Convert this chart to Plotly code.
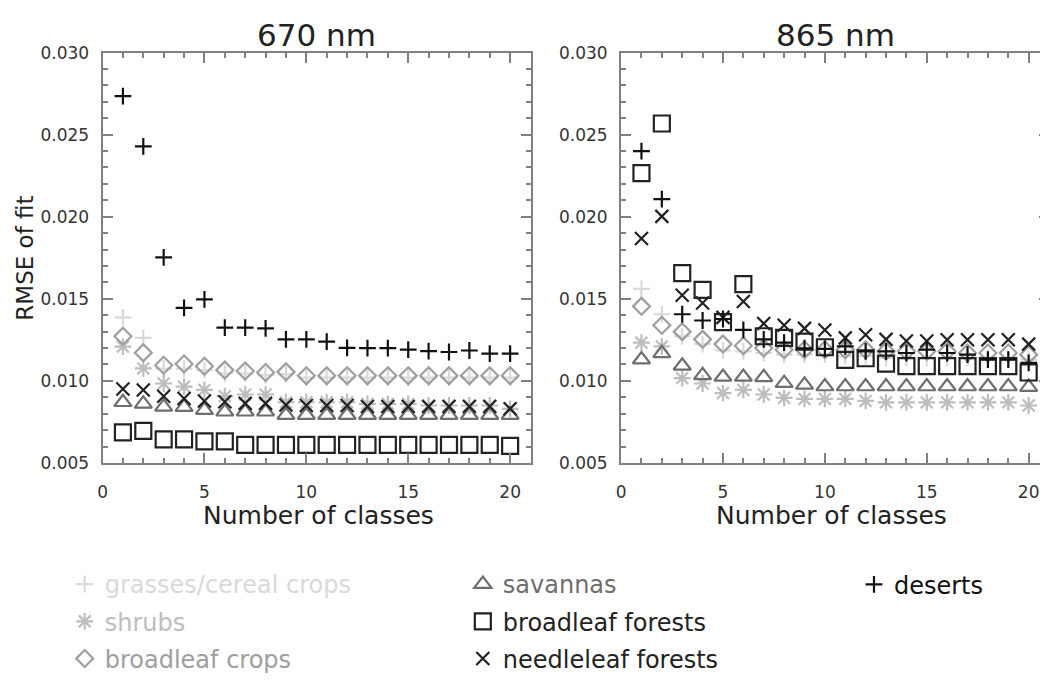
import plotly.graph_objects as go

classes = list(range(1, 21))

# ---- 670 nm ----
grasses_670 = [0.01387, 0.01262, 0.01075, 0.01075, 0.01065, 0.01045, 0.01045, 0.01035, 0.0104, 0.0102,
               0.0102, 0.0102, 0.0102, 0.0102, 0.0102, 0.0102, 0.0102, 0.0102, 0.0102, 0.0102]
shrubs_670 = [0.01209, 0.01076, 0.00984, 0.00965, 0.00945, 0.00907, 0.00917, 0.00917, 0.0087, 0.0087,
              0.0087, 0.0087, 0.0086, 0.0086, 0.0086, 0.0085, 0.0085, 0.0085, 0.0085, 0.0083]
bcrops_670 = [0.01272, 0.01172, 0.01095, 0.01103, 0.01089, 0.01066, 0.0106, 0.01051, 0.01055, 0.01032,
              0.01032, 0.01032, 0.01032, 0.01032, 0.01032, 0.01032, 0.01032, 0.01032, 0.01032, 0.01032]
savannas_670 = [0.00870, 0.00860, 0.00842, 0.00840, 0.00822, 0.00812, 0.00812, 0.00812, 0.00792, 0.00792,
                0.00792, 0.00792, 0.00792, 0.00792, 0.00792, 0.00792, 0.00792, 0.00792, 0.00792, 0.00792]
bforests_670 = [0.00686, 0.00696, 0.00644, 0.00644, 0.00632, 0.00632, 0.0061, 0.0061, 0.0061, 0.0061,
                0.0061, 0.0061, 0.0061, 0.0061, 0.0061, 0.0061, 0.0061, 0.0061, 0.0061, 0.00604]
needle_670 = [0.00951, 0.00945, 0.00907, 0.00893, 0.00878, 0.00873, 0.00863, 0.00863, 0.00853, 0.0085,
              0.0085, 0.0085, 0.00844, 0.00844, 0.00844, 0.00844, 0.00844, 0.00844, 0.00844, 0.0083]
deserts_670 = [0.02735, 0.02428, 0.01752, 0.01445, 0.01497, 0.01324, 0.01324, 0.0132, 0.01253, 0.01253,
               0.01239, 0.01201, 0.0120, 0.0120, 0.0119, 0.01181, 0.01176, 0.01185, 0.01166, 0.01166]

# ---- 865 nm ----
grasses_865 = [0.0156, 0.01406, 0.01272, 0.01224, 0.01185, 0.0118, 0.0117, 0.0116, 0.0116, 0.0116,
               0.0115, 0.0115, 0.0114, 0.0114, 0.0114, 0.0114, 0.0114, 0.0114, 0.0113, 0.0113]
shrubs_865 = [0.01233, 0.0121, 0.01017, 0.00984, 0.00926, 0.00945, 0.00917, 0.00897, 0.0089, 0.0089,
              0.0089, 0.00878, 0.00869, 0.00869, 0.00869, 0.00869, 0.00869, 0.00869, 0.00869, 0.0085]
bcrops_865 = [0.01454, 0.01339, 0.0130, 0.01253, 0.01224, 0.01214, 0.0120, 0.0119, 0.0119, 0.0119,
              0.0119, 0.0119, 0.0118, 0.0118, 0.0118, 0.0118, 0.0117, 0.0117, 0.0117, 0.0116]
savannas_865 = [0.01130, 0.01168, 0.01092, 0.01034, 0.01024, 0.01024, 0.01022, 0.00986, 0.00976, 0.00966,
                0.00966, 0.00966, 0.00966, 0.00966, 0.00966, 0.00966, 0.00966, 0.00966, 0.00966, 0.00962]
bforests_865 = [0.02265, 0.02568, 0.01656, 0.01554, 0.01358, 0.01589, 0.01272, 0.01262, 0.01239, 0.01205,
                0.01128, 0.01138, 0.01105, 0.0109, 0.0109, 0.0109, 0.0109, 0.0109, 0.0109, 0.01051]
needle_865 = [0.01867, 0.02002, 0.01522, 0.01474, 0.01387, 0.01483, 0.01349, 0.01339, 0.0132, 0.0131,
              0.01262, 0.01281, 0.01253, 0.01243, 0.01243, 0.0125, 0.0125, 0.0125, 0.0125, 0.01224]
deserts_865 = [0.02399, 0.02107, 0.01406, 0.01368, 0.01377, 0.01311, 0.01253, 0.01233, 0.01199, 0.01195,
               0.0121, 0.0118, 0.0118, 0.0117, 0.0119, 0.0117, 0.0116, 0.0113, 0.0113, 0.0111]

series_names = ["grasses/cereal crops", "shrubs", "broadleaf crops", "savannas",
                "broadleaf forests", "needleleaf forests", "deserts"]
values_670 = [grasses_670, shrubs_670, bcrops_670, savannas_670, bforests_670, needle_670, deserts_670]
values_865 = [grasses_865, shrubs_865, bcrops_865, savannas_865, bforests_865, needle_865, deserts_865]

colors = ["#d9d9d9", "#bdbdbd", "#9e9e9e", "#6e6e6e", "#222222", "#222222", "#111111"]
symbols = ["cross-thin-open", "asterisk-open", "diamond-open", "triangle-up-open",
           "square-open", "x-thin-open", "cross-thin-open"]
sizes = [12, 14, 13, 15, 16, 13, 12]
legend_ids = ["legend", "legend", "legend", "legend2", "legend2", "legend2", "legend3"]

FONT = "DejaVu Sans"
W, H = 1060, 681   # page is clipped to 1040 px, so the right frame edge falls just outside, as in the original

fig = go.Figure()
for i, name in enumerate(series_names):
    for vals, xa, ya, show in [(values_670[i], "x", "y", True), (values_865[i], "x2", "y2", False)]:
        fig.add_trace(go.Scatter(
            x=classes, y=vals, mode="markers", xaxis=xa, yaxis=ya,
            name=f"<span style='color:{colors[i]}'>{name}</span>",
            legend=legend_ids[i], legendgroup=name, showlegend=show,
            marker=dict(symbol=symbols[i], size=sizes[i], color=colors[i],
                        line=dict(color=colors[i], width=2.2)),
            hoverinfo="skip"))

def px_x(p):
    return p / W

def px_y(p):
    return 1 - p / H

axis_common = dict(
    showline=True, linecolor="#808080", linewidth=2, mirror="ticks",
    ticks="inside", ticklen=10, tickwidth=1.5, tickcolor="#808080",
    showgrid=False, zeroline=False,
    tickfont=dict(family=FONT, size=17, color="#333333"),
)
xaxis_common = dict(axis_common, range=[0, 21], dtick=5, tick0=0,
                    minor=dict(dtick=1, ticklen=5, tickcolor="#808080", ticks="inside", tickwidth=1.5),
                    ticklabelstandoff=13)
yaxis_common = dict(axis_common, range=[0.005, 0.030], dtick=0.005, tick0=0.005, tickformat=".3f",
                    minor=dict(dtick=0.001, ticklen=5, tickcolor="#808080", ticks="inside", tickwidth=1.5),
                    ticklabelstandoff=8)

ydom = [px_y(479), px_y(45)]
fig.update_layout(
    width=W, height=H,
    margin=dict(l=0, r=0, t=0, b=0),
    paper_bgcolor="white", plot_bgcolor="white",
    xaxis=dict(xaxis_common, domain=[px_x(98), px_x(528)], anchor="y"),
    yaxis=dict(yaxis_common, domain=ydom, anchor="x"),
    xaxis2=dict(xaxis_common, domain=[px_x(619), px_x(1049)], anchor="y2"),
    yaxis2=dict(yaxis_common, domain=ydom, anchor="x2"),
    font=dict(family=FONT, color="#333333"),
)

leg_common = dict(orientation="v", xanchor="left", yanchor="top", bgcolor="rgba(0,0,0,0)",
                  font=dict(family=FONT, size=24), tracegroupgap=3, itemsizing="trace")
fig.update_layout(
    legend=dict(leg_common, x=px_x(60), y=px_y(584)),
    legend2=dict(leg_common, x=px_x(460), y=px_y(584)),
    legend3=dict(leg_common, x=px_x(853), y=px_y(584)),
)

for txt, cx in [("670 nm", 313), ("865 nm", 834)]:
    fig.add_annotation(xref="paper", yref="paper", x=px_x(cx), y=px_y(26), text=txt,
                       showarrow=False, xanchor="center", yanchor="middle",
                       font=dict(family=FONT, size=31, color="#222222"))
for cx in [315, 830]:
    fig.add_annotation(xref="paper", yref="paper", x=px_x(cx), y=px_y(535), text="Number of classes",
                       showarrow=False, xanchor="center", yanchor="middle",
                       font=dict(family=FONT, size=25, color="#222222"))
fig.add_annotation(xref="paper", yref="paper", x=px_x(20), y=px_y(262), text="RMSE of fit",
                   showarrow=False, textangle=-90, xanchor="center", yanchor="middle",
                   font=dict(family=FONT, size=23, color="#222222"))

fig.write_html("out.html", config={"displayModeBar": False},
               post_script="document.body.style.margin='0';document.body.style.overflow='hidden';"
                           "document.documentElement.style.overflow='hidden';")
